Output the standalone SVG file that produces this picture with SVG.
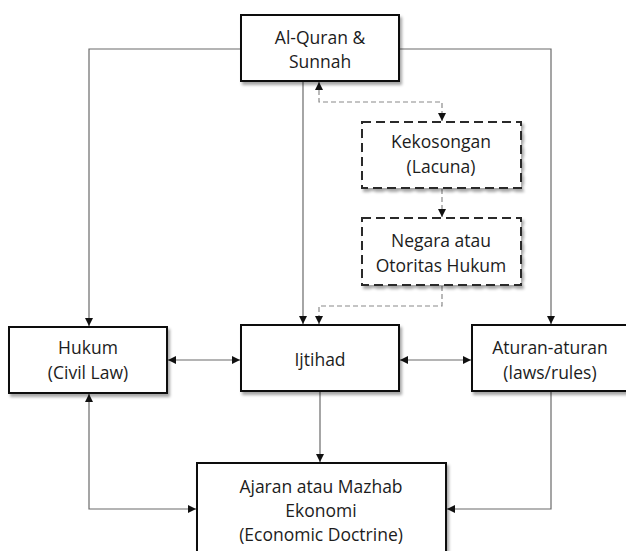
<svg xmlns="http://www.w3.org/2000/svg" width="626" height="551" viewBox="0 0 626 551">
  <style>
    .box { fill: #ffffff; stroke: #111111; stroke-width: 2; filter: url(#shadow); }
    .dbox { fill: #ffffff; stroke: #2a2a2a; stroke-width: 2; stroke-dasharray: 9 5; filter: url(#shadow); }
    .lbl { font-family: "Open Sans", "Noto Sans", sans-serif; font-size: 17.5px; fill: #1c1c1c; text-anchor: middle; }
    .wire { fill: none; stroke: #6a6a6a; stroke-width: 1.2; }
    .dash { fill: none; stroke: #8a8a8a; stroke-width: 1.2; stroke-dasharray: 5 3; }
  </style>
  <defs>
    <filter id="shadow" x="-10%" y="-10%" width="130%" height="140%">
      <feDropShadow dx="2" dy="3" stdDeviation="1.6" flood-color="#000000" flood-opacity="0.35"/>
    </filter>
    <marker id="arr" viewBox="0 0 8 8" refX="8" refY="4" markerWidth="8" markerHeight="8" markerUnits="userSpaceOnUse" orient="auto-start-reverse">
      <path d="M0,0 L8,4 L0,8 z" fill="#111111"/>
    </marker>
  </defs>
  <rect width="626" height="551" fill="#ffffff"/>

  <!-- connectors -->
  <g id="connectors">
    <path class="wire" d="M241,49 H89 V326" marker-end="url(#arr)"/>
    <path class="wire" d="M399,49 H551 V324" marker-end="url(#arr)"/>
    <path class="wire" d="M303,82 V324" marker-end="url(#arr)"/>
    <path class="dash" d="M319,82 V102 H442 V121" marker-start="url(#arr)" marker-end="url(#arr)"/>
    <path class="dash" d="M442,189 V217" marker-end="url(#arr)"/>
    <path class="dash" d="M442,286 V306 H319 V324" marker-end="url(#arr)"/>
    <path class="wire" d="M168,360 H240" marker-start="url(#arr)" marker-end="url(#arr)"/>
    <path class="wire" d="M400,360 H471" marker-start="url(#arr)" marker-end="url(#arr)"/>
    <path class="wire" d="M89,394 V509 H196" marker-start="url(#arr)" marker-end="url(#arr)"/>
    <path class="wire" d="M320,392 V462" marker-end="url(#arr)"/>
    <path class="wire" d="M551,392 V509 H447" marker-end="url(#arr)"/>
  </g>

  <!-- nodes -->
  <g id="node-quran">
    <rect class="box" x="241" y="15" width="158" height="66"/>
    <text class="lbl" x="320" y="44">Al-Quran &amp;</text>
    <text class="lbl" x="320" y="68">Sunnah</text>
  </g>
  <g id="node-kekosongan">
    <rect class="dbox" x="362" y="122" width="159" height="66"/>
    <text class="lbl" x="441" y="148">Kekosongan</text>
    <text class="lbl" x="441" y="173">(Lacuna)</text>
  </g>
  <g id="node-negara">
    <rect class="dbox" x="362" y="218" width="159" height="67"/>
    <text class="lbl" x="441" y="247">Negara atau</text>
    <text class="lbl" x="441" y="272">Otoritas Hukum</text>
  </g>
  <g id="node-hukum">
    <rect class="box" x="9" y="327" width="158" height="66"/>
    <text class="lbl" x="88" y="354">Hukum</text>
    <text class="lbl" x="88" y="379">(Civil Law)</text>
  </g>
  <g id="node-ijtihad">
    <rect class="box" x="241" y="325" width="158" height="66"/>
    <text class="lbl" x="320" y="366">Ijtihad</text>
  </g>
  <g id="node-aturan">
    <rect class="box" x="472" y="325" width="158" height="66"/>
    <text class="lbl" x="550" y="354">Aturan-aturan</text>
    <text class="lbl" x="550" y="379">(laws/rules)</text>
  </g>
  <g id="node-ajaran">
    <rect class="box" x="197" y="463" width="249" height="96"/>
    <text class="lbl" x="321" y="493">Ajaran atau Mazhab</text>
    <text class="lbl" x="321" y="517">Ekonomi</text>
    <text class="lbl" x="321" y="541">(Economic Doctrine)</text>
  </g>
</svg>
